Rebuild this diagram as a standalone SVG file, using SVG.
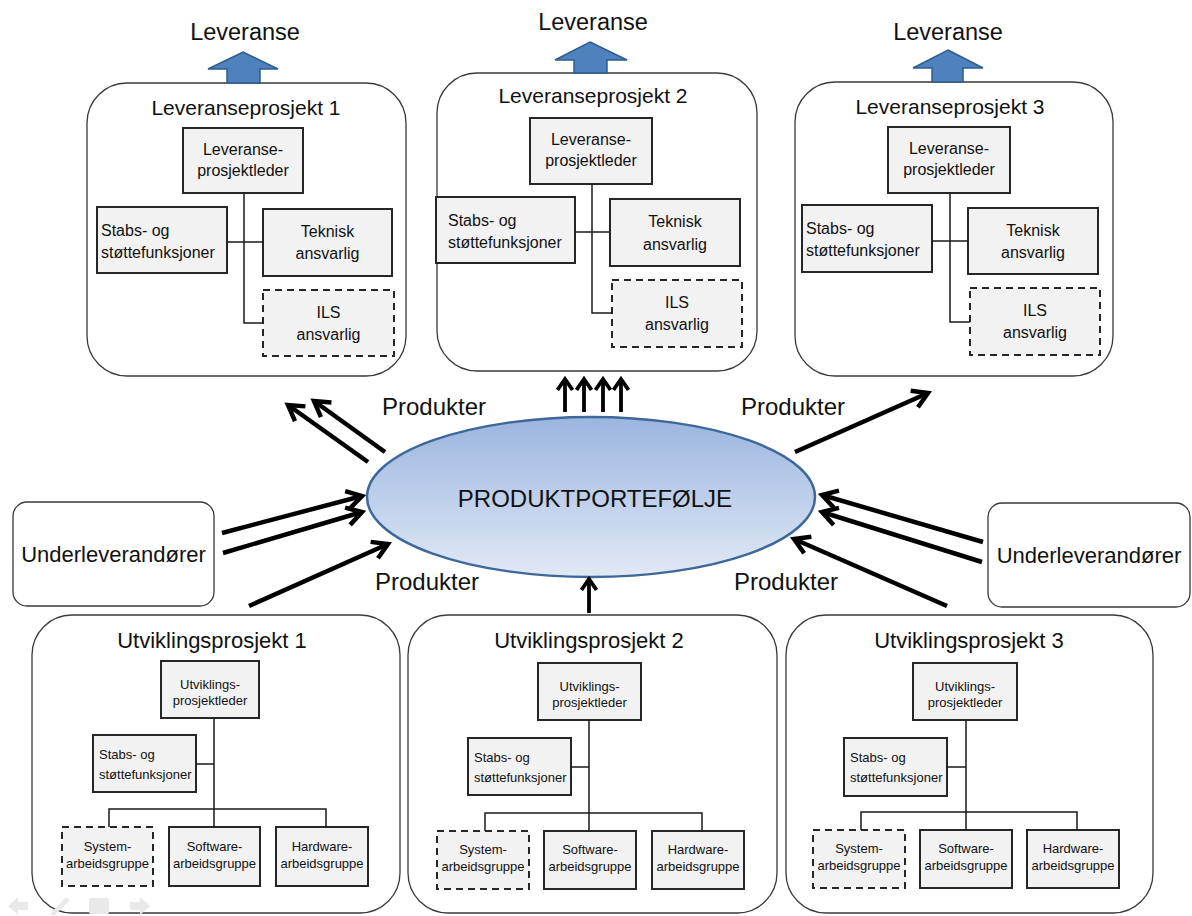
<svg xmlns="http://www.w3.org/2000/svg" width="1192" height="916" viewBox="0 0 1192 916">
  <style>
    text { font-family: "Liberation Sans", Arial, sans-serif; fill: #111; }
    .outer { fill: #fff; stroke: #3a3a3a; stroke-width: 1.3; }
    .unit { fill: #f2f2f2; stroke: #262626; stroke-width: 2; }
    .unit-d { fill: #f2f2f2; stroke: #262626; stroke-width: 2; stroke-dasharray: 7 5; }
    .org { fill: none; stroke: #1a1a1a; stroke-width: 1.5; }
    .flow { fill: none; stroke: #000; stroke-width: 4.5; }
    .flow-s { fill: none; stroke: #000; stroke-width: 3.8; }
    .deliver { fill: #4f81bd; stroke: #2c5d91; stroke-width: 1.5; }
    .t-head { font-size: 23.5px; }
    .t-title { font-size: 21px; }
    .t-utitle { font-size: 22px; }
    .t-unit { font-size: 16px; }
    .t-small { font-size: 13px; }
    .t-flow { font-size: 24px; }
    .t-sup { font-size: 22px; }
    .nav { fill: #e9e9e9; stroke: none; }
  </style>
  <defs>
    <linearGradient id="portfolioFill" x1="0" y1="0" x2="0" y2="1">
      <stop offset="0" stop-color="#9bb5e0"/>
      <stop offset="1" stop-color="#e1e9f5"/>
    </linearGradient>
    <marker id="head" viewBox="0 0 24 24" refX="18" refY="12" markerWidth="24" markerHeight="24" markerUnits="userSpaceOnUse" orient="auto">
      <path d="M3,3 L18,12 L3,21" fill="none" stroke="#000" stroke-width="4.5"/>
    </marker>
    <marker id="headSmall" viewBox="0 0 18 18" refX="13" refY="9" markerWidth="18" markerHeight="18" markerUnits="userSpaceOnUse" orient="auto">
      <path d="M2,1.5 L13,9 L2,16.5" fill="none" stroke="#000" stroke-width="3.8"/>
    </marker>
  </defs>

  <!-- Delivery projects (top row) -->
  <g id="leveranse-1">
    <text class="t-head" x="245" y="40" text-anchor="middle">Leveranse</text>
    <rect class="outer" x="87" y="83" width="319" height="293" rx="40"/>
    <polygon class="deliver" points="243,52 278,69 260,69 260,83 227,83 227,69 208,69"/>
    <text class="t-title" x="246" y="115" text-anchor="middle">Leveranseprosjekt 1</text>
    <rect class="unit" x="183" y="128" width="120" height="65"/>
    <text class="t-unit" x="243" y="155" text-anchor="middle">Leveranse-</text>
    <text class="t-unit" x="243" y="176" text-anchor="middle">prosjektleder</text>
    <rect class="unit" x="97" y="207" width="130" height="66"/>
    <text class="t-unit" x="101" y="236">Stabs- og</text>
    <text class="t-unit" x="101" y="258">støttefunksjoner</text>
    <rect class="unit" x="263" y="209" width="129" height="67"/>
    <text class="t-unit" x="327.5" y="237" text-anchor="middle">Teknisk</text>
    <text class="t-unit" x="327.5" y="259" text-anchor="middle">ansvarlig</text>
    <rect class="unit-d" x="263" y="290" width="131" height="66"/>
    <text class="t-unit" x="328.5" y="318" text-anchor="middle">ILS</text>
    <text class="t-unit" x="328.5" y="340" text-anchor="middle">ansvarlig</text>
    <path class="org" d="M244,193 V323 H263 M227,242 H263"/>
  </g>

  <g id="leveranse-2">
    <text class="t-head" x="593" y="30" text-anchor="middle">Leveranse</text>
    <rect class="outer" x="437" y="73" width="320" height="298" rx="40"/>
    <polygon class="deliver" points="590,42 627,60 607,60 607,73 574,73 574,60 555,60"/>
    <text class="t-title" x="593" y="103" text-anchor="middle">Leveranseprosjekt 2</text>
    <rect class="unit" x="530" y="118" width="122" height="66"/>
    <text class="t-unit" x="591" y="145" text-anchor="middle">Leveranse-</text>
    <text class="t-unit" x="591" y="166" text-anchor="middle">prosjektleder</text>
    <rect class="unit" x="436" y="197" width="139" height="66"/>
    <text class="t-unit" x="448" y="226">Stabs- og</text>
    <text class="t-unit" x="448" y="248">støttefunksjoner</text>
    <rect class="unit" x="610" y="199" width="130" height="67"/>
    <text class="t-unit" x="675" y="227" text-anchor="middle">Teknisk</text>
    <text class="t-unit" x="675" y="250" text-anchor="middle">ansvarlig</text>
    <rect class="unit-d" x="612" y="280" width="130" height="67"/>
    <text class="t-unit" x="677" y="308" text-anchor="middle">ILS</text>
    <text class="t-unit" x="677" y="330" text-anchor="middle">ansvarlig</text>
    <path class="org" d="M592,184 V313 H612 M575,232 H610"/>
  </g>

  <g id="leveranse-3">
    <text class="t-head" x="948" y="40" text-anchor="middle">Leveranse</text>
    <rect class="outer" x="795" y="82" width="318" height="294" rx="40"/>
    <polygon class="deliver" points="948,50 983,68 963,68 963,82 932,82 932,68 913,68"/>
    <text class="t-title" x="950" y="114" text-anchor="middle">Leveranseprosjekt 3</text>
    <rect class="unit" x="888" y="127" width="122" height="66"/>
    <text class="t-unit" x="949" y="154" text-anchor="middle">Leveranse-</text>
    <text class="t-unit" x="949" y="175" text-anchor="middle">prosjektleder</text>
    <rect class="unit" x="802" y="205" width="130" height="67"/>
    <text class="t-unit" x="806" y="234">Stabs- og</text>
    <text class="t-unit" x="806" y="256">støttefunksjoner</text>
    <rect class="unit" x="968" y="208" width="130" height="66"/>
    <text class="t-unit" x="1033" y="236" text-anchor="middle">Teknisk</text>
    <text class="t-unit" x="1033" y="258" text-anchor="middle">ansvarlig</text>
    <rect class="unit-d" x="970" y="288" width="130" height="67"/>
    <text class="t-unit" x="1035" y="316" text-anchor="middle">ILS</text>
    <text class="t-unit" x="1035" y="338" text-anchor="middle">ansvarlig</text>
    <path class="org" d="M950,193 V322 H970 M932,241 H968"/>
  </g>

  <!-- Product portfolio -->
  <g id="produktportefolje">
    <ellipse cx="591" cy="497" rx="224" ry="80" fill="url(#portfolioFill)" stroke="#3e6899" stroke-width="2.5"/>
    <text x="595" y="507" font-size="24" text-anchor="middle">PRODUKTPORTEFØLJE</text>
  </g>

  <!-- Subcontractors -->
  <g id="underleverandorer-venstre">
    <rect class="outer" x="13" y="502" width="201" height="104" rx="14"/>
    <text class="t-sup" x="113.5" y="562" text-anchor="middle">Underleverandører</text>
  </g>
  <g id="underleverandorer-hoyre">
    <rect class="outer" x="988" y="503" width="202" height="104" rx="14"/>
    <text class="t-sup" x="1089" y="563" text-anchor="middle">Underleverandører</text>
  </g>

  <!-- Development projects (bottom row) -->
  <g id="utvikling-1">
    <rect class="outer" x="32" y="615" width="368" height="298" rx="40"/>
    <text class="t-utitle" x="212" y="648" text-anchor="middle">Utviklingsprosjekt 1</text>
    <rect class="unit" x="161" y="661" width="98" height="57"/>
    <text class="t-small" x="210" y="689" text-anchor="middle">Utviklings-</text>
    <text class="t-small" x="210" y="705" text-anchor="middle">prosjektleder</text>
    <rect class="unit" x="93" y="735" width="103" height="57"/>
    <text class="t-small" x="99" y="759">Stabs- og</text>
    <text class="t-small" x="99" y="779">støttefunksjoner</text>
    <rect class="unit-d" x="62" y="827" width="91" height="59"/>
    <text class="t-small" x="107.5" y="851" text-anchor="middle">System-</text>
    <text class="t-small" x="107.5" y="868" text-anchor="middle">arbeidsgruppe</text>
    <rect class="unit" x="169" y="827" width="91" height="59"/>
    <text class="t-small" x="214.5" y="851" text-anchor="middle">Software-</text>
    <text class="t-small" x="214.5" y="868" text-anchor="middle">arbeidsgruppe</text>
    <rect class="unit" x="276" y="827" width="92" height="59"/>
    <text class="t-small" x="322" y="851" text-anchor="middle">Hardware-</text>
    <text class="t-small" x="322" y="868" text-anchor="middle">arbeidsgruppe</text>
    <path class="org" d="M214,718 V827 M196,764 H214 M109,827 V809 H326 V827"/>
  </g>

  <g id="utvikling-2">
    <rect class="outer" x="408" y="615" width="369" height="298" rx="40"/>
    <text class="t-utitle" x="589" y="648" text-anchor="middle">Utviklingsprosjekt 2</text>
    <rect class="unit" x="538" y="663" width="103" height="57"/>
    <text class="t-small" x="589.5" y="691" text-anchor="middle">Utviklings-</text>
    <text class="t-small" x="589.5" y="707" text-anchor="middle">prosjektleder</text>
    <rect class="unit" x="468" y="738" width="103" height="57"/>
    <text class="t-small" x="474" y="762">Stabs- og</text>
    <text class="t-small" x="474" y="782">støttefunksjoner</text>
    <rect class="unit-d" x="437" y="831" width="92" height="58"/>
    <text class="t-small" x="483" y="854" text-anchor="middle">System-</text>
    <text class="t-small" x="483" y="871" text-anchor="middle">arbeidsgruppe</text>
    <rect class="unit" x="544" y="831" width="92" height="58"/>
    <text class="t-small" x="590" y="854" text-anchor="middle">Software-</text>
    <text class="t-small" x="590" y="871" text-anchor="middle">arbeidsgruppe</text>
    <rect class="unit" x="652" y="831" width="92" height="58"/>
    <text class="t-small" x="698" y="854" text-anchor="middle">Hardware-</text>
    <text class="t-small" x="698" y="871" text-anchor="middle">arbeidsgruppe</text>
    <path class="org" d="M589,720 V831 M571,767 H589 M485,831 V813 H702 V831"/>
  </g>

  <g id="utvikling-3">
    <rect class="outer" x="786" y="615" width="367" height="298" rx="40"/>
    <text class="t-utitle" x="969" y="648" text-anchor="middle">Utviklingsprosjekt 3</text>
    <rect class="unit" x="913" y="663" width="104" height="57"/>
    <text class="t-small" x="965" y="691" text-anchor="middle">Utviklings-</text>
    <text class="t-small" x="965" y="707" text-anchor="middle">prosjektleder</text>
    <rect class="unit" x="844" y="738" width="103" height="58"/>
    <text class="t-small" x="850" y="762">Stabs- og</text>
    <text class="t-small" x="850" y="782">støttefunksjoner</text>
    <rect class="unit-d" x="813" y="830" width="92" height="58"/>
    <text class="t-small" x="859" y="853" text-anchor="middle">System-</text>
    <text class="t-small" x="859" y="870" text-anchor="middle">arbeidsgruppe</text>
    <rect class="unit" x="920" y="830" width="92" height="58"/>
    <text class="t-small" x="966" y="853" text-anchor="middle">Software-</text>
    <text class="t-small" x="966" y="870" text-anchor="middle">arbeidsgruppe</text>
    <rect class="unit" x="1027" y="830" width="92" height="58"/>
    <text class="t-small" x="1073" y="853" text-anchor="middle">Hardware-</text>
    <text class="t-small" x="1073" y="870" text-anchor="middle">arbeidsgruppe</text>
    <path class="org" d="M966,720 V830 M947,767 H966 M861,830 V812 H1077 V830"/>
  </g>

  <!-- Product flows -->
  <g id="connectors">
    <line class="flow" x1="385" y1="452" x2="314" y2="401" marker-end="url(#head)"/>
    <line class="flow" x1="368" y1="462" x2="288" y2="405" marker-end="url(#head)"/>
    <line class="flow" x1="795" y1="452" x2="928" y2="393" marker-end="url(#head)"/>
    <line class="flow" x1="222" y1="533" x2="362" y2="496" marker-end="url(#head)"/>
    <line class="flow" x1="223" y1="553" x2="362" y2="512" marker-end="url(#head)"/>
    <line class="flow" x1="249" y1="606" x2="388" y2="544" marker-end="url(#head)"/>
    <line class="flow" x1="983" y1="542" x2="822" y2="495" marker-end="url(#head)"/>
    <line class="flow" x1="982" y1="562" x2="822" y2="512" marker-end="url(#head)"/>
    <line class="flow" x1="947" y1="606" x2="794" y2="539" marker-end="url(#head)"/>
    <line class="flow-s" x1="565" y1="412" x2="565" y2="379" marker-end="url(#headSmall)"/>
    <line class="flow-s" x1="584" y1="412" x2="584" y2="379" marker-end="url(#headSmall)"/>
    <line class="flow-s" x1="603" y1="412" x2="603" y2="379" marker-end="url(#headSmall)"/>
    <line class="flow-s" x1="621" y1="412" x2="621" y2="379" marker-end="url(#headSmall)"/>
    <line class="flow-s" x1="589" y1="613" x2="589" y2="579" marker-end="url(#headSmall)"/>
    <text class="t-flow" x="434" y="415" text-anchor="middle">Produkter</text>
    <text class="t-flow" x="793" y="415" text-anchor="middle">Produkter</text>
    <text class="t-flow" x="427" y="590" text-anchor="middle">Produkter</text>
    <text class="t-flow" x="786" y="590" text-anchor="middle">Produkter</text>
  </g>

  <!-- Slide navigation controls -->
  <g id="slide-nav">
    <polygon class="nav" points="8,906 18,897 18,902 28,902 28,910 18,910 18,915"/>
    <polygon class="nav" points="50,914 66,897 70,900 54,916"/>
    <rect class="nav" x="89" y="898" width="20" height="16" rx="2"/>
    <polygon class="nav" points="150,906 140,897 140,902 130,902 130,910 140,910 140,915"/>
  </g>
</svg>
